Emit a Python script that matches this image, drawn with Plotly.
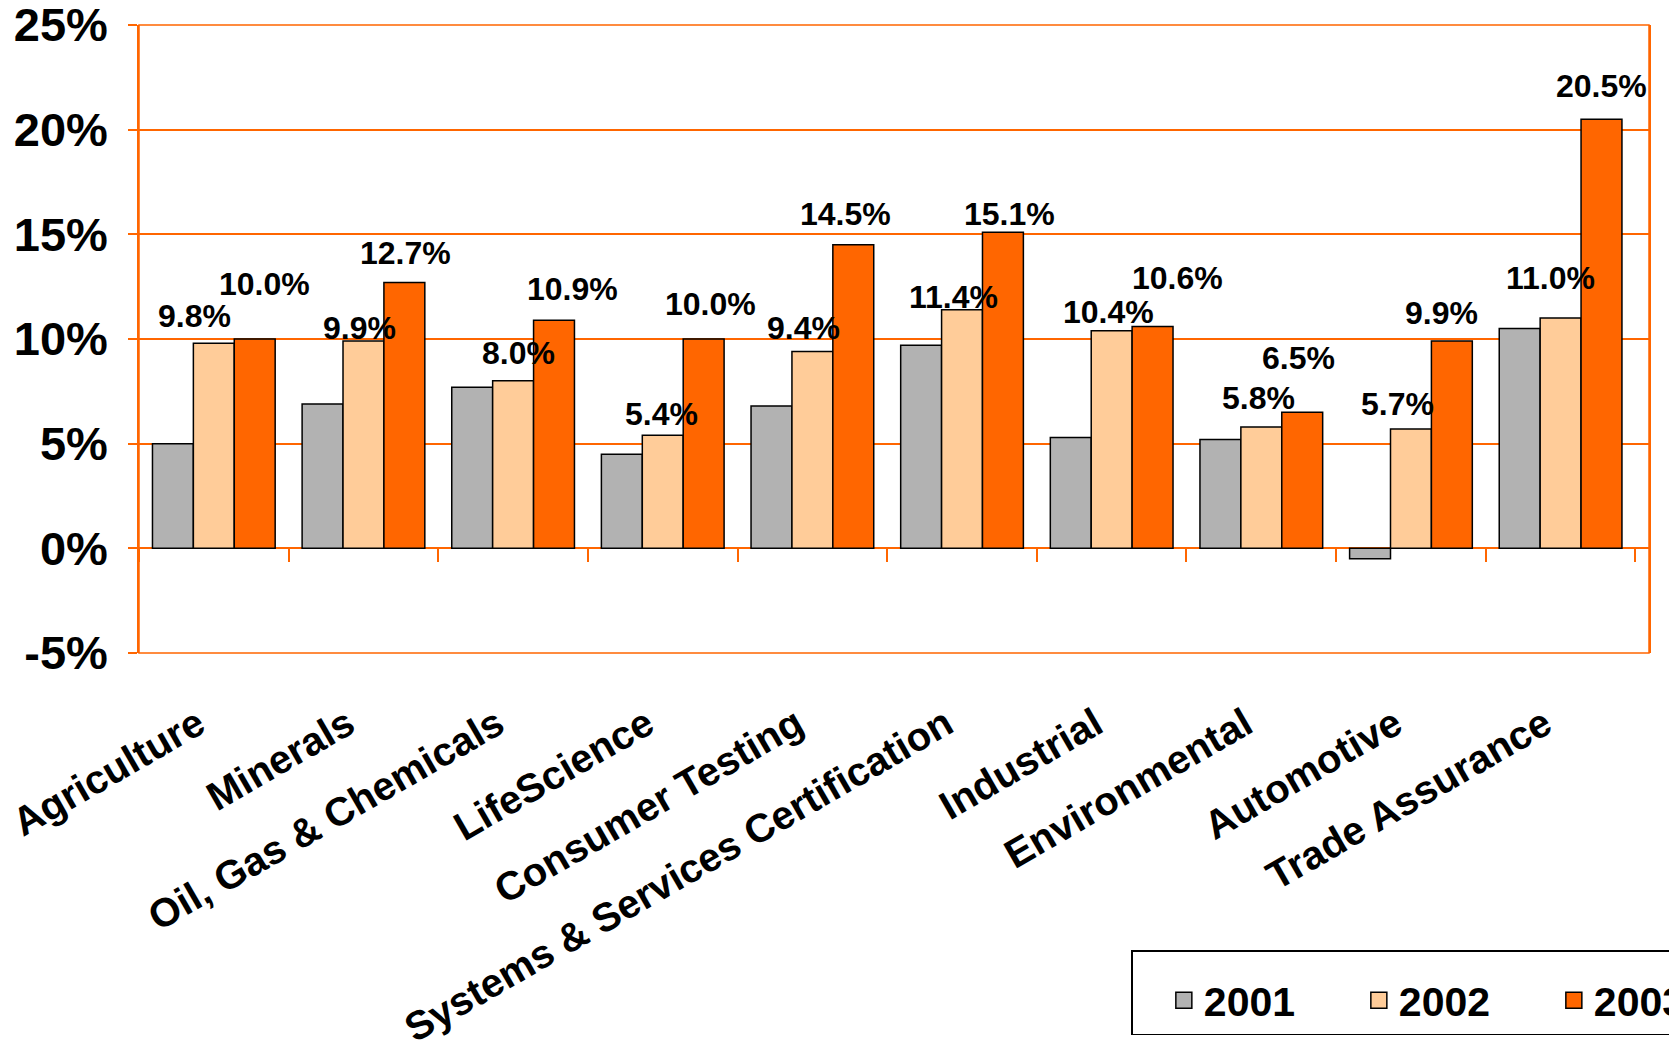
import plotly.graph_objects as go

# growth by business line, percent
categories = ["Agriculture", "Minerals", "Oil, Gas & Chemicals", "LifeScience",
              "Consumer Testing", "Systems & Services Certification", "Industrial",
              "Environmental", "Automotive", "Trade Assurance"]
years = ["2001", "2002", "2003"]
growth_2001 = [5.0, 6.9, 7.7, 4.5, 6.8, 9.7, 5.3, 5.2, -0.5, 10.5]
growth_2002 = [9.8, 9.9, 8.0, 5.4, 9.4, 11.4, 10.4, 5.8, 5.7, 11.0]
growth_2003 = [10.0, 12.7, 10.9, 10.0, 14.5, 15.1, 10.6, 6.5, 9.9, 20.5]

y_tickvals = [-5, 0, 5, 10, 15, 20, 25]
y_ticktext = ["-5%", "0%", "5%", "10%", "15%", "20%", "25%"]

# hand placed value labels in the original: pixel shift (right, up) from bar top
nudge_2002 = [(-19, 27), (-4, 13), (5, 28), (-1, 21), (-9, 24),
              (-9, 13), (-3, 19), (-3, 29), (-13, 25), (-10, 40)]
nudge_2003 = [(10, 55), (1, 29), (18, 31), (7, 35), (-8, 31),
              (7, 18), (25, 48), (-4, 54), (-10, 28), (0, 33)]

GRAY = "#B2B2B2"
PEACH = "#FFCC99"
ORANGE = "#FF6600"
FONT = "Liberation Sans, Arial, sans-serif"
BARGAP = 0.18
Y_RANGE = [-5, 25]
PAGE_PAD = 8  # browser body margin round the plot div

fig = go.Figure()
for name, vals, col in zip(years, [growth_2001, growth_2002, growth_2003], [GRAY, PEACH, ORANGE]):
    fig.add_trace(go.Bar(x=categories, y=vals, name=name, marker_color=col,
                         marker_line=dict(color="black", width=1.5), showlegend=False))
    # legend stand-in with a bigger square swatch
    fig.add_trace(go.Scatter(x=[None], y=[None], mode="markers", name=name,
                             marker=dict(symbol="square", size=16, color=col,
                                         line=dict(color="black", width=1.5))))

bar_w = (1 - BARGAP) / 3
for vals, offset, nudges in [(growth_2002, 0, nudge_2002), (growth_2003, bar_w, nudge_2003)]:
    for i, (v, (dx, dy)) in enumerate(zip(vals, nudges)):
        fig.add_annotation(x=i + offset, y=v, xref="x", yref="y", text=f"{v:.1f}%",
                           showarrow=False, xshift=dx, yshift=dy,
                           xanchor="center", yanchor="middle",
                           font=dict(family=FONT, size=32, color="black", weight="bold"))

# frame round the plot area
fig.add_shape(type="rect", xref="paper", yref="paper", x0=0, x1=1, y0=0, y1=1,
              line=dict(color=ORANGE, width=1.5), layer="above")

zero_pos = (0 - Y_RANGE[0]) / (Y_RANGE[1] - Y_RANGE[0])

W, H = 1677, 1050
fig.update_layout(
    width=W, height=H,
    margin=dict(l=139 - PAGE_PAD, r=28 + PAGE_PAD, t=25 - PAGE_PAD, b=397 + PAGE_PAD,
                autoexpand=False),
    paper_bgcolor="white", plot_bgcolor="white",
    barmode="group", bargap=BARGAP, bargroupgap=0,
    font=dict(family=FONT, color="black"),
    xaxis=dict(type="category", categoryorder="array", categoryarray=categories,
               anchor="free", position=zero_pos,
               tickson="boundaries", ticks="outside", ticklen=13, tickwidth=1.5,
               tickcolor=ORANGE, showline=False, showgrid=False, zeroline=False,
               tickangle=-30, ticklabelstandoff=144, ticklabelshift=-16,
               ticklabeloverflow="allow",
               tickfont=dict(family=FONT, size=40, color="black", weight="bold")),
    yaxis=dict(range=Y_RANGE, tickvals=y_tickvals, ticktext=y_ticktext,
               showgrid=True, gridcolor=ORANGE, gridwidth=1.5,
               zeroline=True, zerolinecolor=ORANGE, zerolinewidth=1.5,
               showline=True, linecolor=ORANGE, linewidth=1.5, mirror=True,
               ticks="outside", ticklen=9, tickwidth=1.5, tickcolor=ORANGE,
               ticklabelstandoff=11, ticklabeloverflow="allow",
               tickfont=dict(family=FONT, size=47, color="black", weight="bold")),
    legend=dict(orientation="h", xref="container", yref="container",
                x=(1131 - PAGE_PAD) / W, y=1 - (950 - PAGE_PAD) / H,
                xanchor="left", yanchor="top",
                bgcolor="white", bordercolor="black", borderwidth=1.5,
                itemsizing="trace", entrywidth=122, indentation=28,
                title=dict(text=" ", side="top left", font=dict(size=12)),
                font=dict(family=FONT, size=41, color="black", weight="bold")),
)

fig.write_html("out.html")
